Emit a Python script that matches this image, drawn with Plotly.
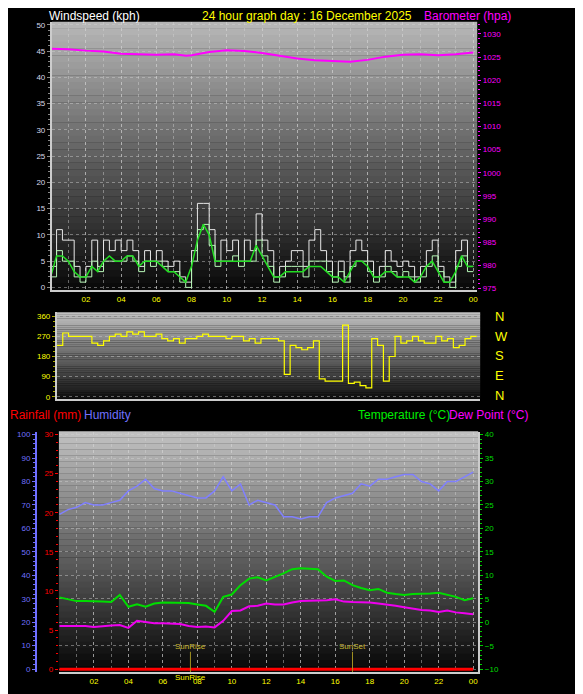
import plotly.graph_objects as go

W, H = 583, 694

# ---- data ----
hours20 = [i / 3 for i in range(73)]
gust = [4, 11, 9, 9, 4, 2, 4, 9, 4, 9, 7, 9, 7, 9, 7, 4, 7, 5, 7, 5, 4, 5, 2, 1,
        7, 16, 16, 11, 5, 9, 7, 9, 5, 9, 7, 14, 9, 7, 2, 4, 5, 7, 7, 4, 9, 11, 7, 5,
        2, 5, 2, 7, 9, 7, 5, 2, 4, 7, 5, 4, 5, 4, 2, 4, 7, 9, 4, 2, 1, 7, 9, 4, 4]
speed = [2, 7, 5, 5, 2, 1, 2, 5, 3, 5, 5, 5, 5, 6, 5, 3, 5, 4, 5, 4, 3, 3, 1, 0,
         5, 11, 12, 8, 4, 5, 5, 6, 4, 5, 5, 9, 6, 4, 1, 2, 4, 4, 4, 2, 5, 5, 5, 3,
         1, 3, 1, 4, 5, 5, 3, 1, 2, 4, 3, 2, 3, 2, 1, 2, 4, 6, 3, 1, 0, 4, 6, 3, 3]
avg = [2, 6, 6, 5, 3, 2, 2, 4, 3, 5, 6, 5, 5, 6, 6, 4, 5, 5, 5, 4, 3, 3, 2, 1,
       4, 9, 12, 10, 5, 5, 5, 5, 5, 5, 5, 8, 6, 4, 2, 2, 3, 3, 3, 3, 4, 4, 4, 3,
       2, 2, 1, 3, 5, 5, 4, 2, 2, 3, 3, 2, 2, 2, 1, 2, 4, 5, 3, 1, 1, 3, 6, 4, 4]
direction = [230, 285, 270, 270, 270, 270, 240, 230, 250, 270, 280, 270,
             290, 280, 290, 270, 270, 280, 260, 250, 260, 240, 260, 260,
             270, 280, 270, 270, 270, 260, 270, 270, 250, 260, 240, 260,
             260, 260, 250, 100, 230, 220, 210, 220, 250, 80, 70, 70,
             70, 320, 60, 65, 50, 40, 260, 230, 70, 180, 270, 240,
             250, 270, 250, 240, 240, 270, 250, 260, 220, 230, 260, 270, 270]

baro_hours = [0, 1, 2, 3, 4, 5, 6, 7, 7.7, 8, 9, 10, 11, 12, 13, 14, 15, 16, 17, 18,
              19, 20, 21, 22, 23, 24]
baro = [1026.8, 1026.7, 1026.4, 1026.2, 1025.7, 1025.6, 1025.5, 1025.6, 1025.3,
        1025.4, 1026.1, 1026.5, 1026.3, 1025.9, 1025.3, 1024.7, 1024.3, 1024.2,
        1024.0, 1024.4, 1025.1, 1025.5, 1025.6, 1025.4, 1025.6, 1026.0]

hours30 = [i / 2 for i in range(49)]
humidity = [66, 68, 69, 71, 70, 70, 71, 72, 76, 78, 81, 77, 76, 76, 75, 74, 73, 73,
            76, 82, 76, 79, 70, 72, 71, 70, 65, 65, 64, 65, 65, 71, 73, 74, 75, 79,
            78, 81, 81, 82, 83, 83, 80, 79, 76, 80, 80, 82, 84]
temperature = [5.3, 4.9, 4.5, 4.5, 4.5, 4.4, 4.3, 5.8, 3.3, 3.8, 3.3, 4.0, 4.2, 4.2,
               4.1, 4.1, 3.8, 3.5, 2.2, 5.4, 5.9, 7.9, 9.3, 9.6, 8.9, 9.6, 10.4,
               11.3, 11.5, 11.4, 11.3, 9.7, 8.8, 8.9, 7.9, 7.3, 6.8, 7.1, 6.3, 6.0,
               5.8, 6.0, 6.0, 6.1, 6.3, 5.8, 5.4, 4.7, 5.1]
dewpoint = [-0.8, -0.8, -0.7, -0.8, -1.0, -0.8, -0.7, -0.6, -1.2, 0.3, 0.0, -0.2,
            -0.2, -0.3, -0.4, -0.8, -1.0, -0.9, -1.1, 0.3, 2.4, 2.5, 3.4, 3.5, 4.0,
            3.8, 3.8, 4.2, 4.5, 4.6, 4.6, 4.7, 4.9, 4.4, 4.3, 4.3, 4.2, 4.0, 3.8,
            3.5, 3.2, 2.9, 2.6, 2.5, 2.2, 2.5, 2.1, 1.9, 1.7]
rainfall = [0] * 49

sunrise, sunset = 7.6, 17.0
tick_hours = list(range(2, 25, 2))
tick_text = ["%02d" % (h % 24) for h in tick_hours]


def py(px):
    return 1 - px / H


FONT = "Liberation Sans"
fig = go.Figure()

# top panel
fig.add_trace(go.Scatter(x=hours20, y=gust, line=dict(color="#e8e8e8", width=1, shape="hv"),
                         xaxis="x", yaxis="y"))
fig.add_trace(go.Scatter(x=hours20, y=speed, line=dict(color="#b8f8b8", width=1, shape="hv"),
                         xaxis="x", yaxis="y"))
fig.add_trace(go.Scatter(x=hours20, y=avg, line=dict(color="#22dd22", width=1.5),
                         xaxis="x", yaxis="y"))
fig.add_trace(go.Scatter(x=baro_hours, y=baro, line=dict(color="#ff00ff", width=2),
                         xaxis="x", yaxis="y2"))
# direction
fig.add_trace(go.Scatter(x=hours20, y=direction, line=dict(color="#ffff00", width=1.2, shape="hv"),
                         xaxis="x2", yaxis="y3"))
# bottom panel
fig.add_trace(go.Scatter(x=hours30, y=humidity, line=dict(color="#8080ff", width=1.5),
                         xaxis="x3", yaxis="y6"))
fig.add_trace(go.Scatter(x=hours30, y=temperature, line=dict(color="#00dd00", width=2),
                         xaxis="x3", yaxis="y5"))
fig.add_trace(go.Scatter(x=hours30, y=dewpoint, line=dict(color="#ee00ee", width=2),
                         xaxis="x3", yaxis="y5"))
fig.add_trace(go.Scatter(x=hours30, y=rainfall, line=dict(color="#ff0000", width=3),
                         xaxis="x3", yaxis="y7"))

shapes = []
# gradient backgrounds
for xr, yr, top, bot in [("x", "y", 185, 8), ("x2", "y3", 195, 15), ("x3", "y5", 195, 5)]:
    n = 40
    for i in range(n):
        c = int(top + (bot - top) * (i + 0.5) / n)
        shapes.append(dict(type="rect", xref=xr + " domain", yref=yr + " domain",
                           x0=0, x1=1, y0=1 - (i + 1) / n, y1=1 - i / n + 0.001,
                           fillcolor="rgb(%d,%d,%d)" % (c, c, c), line_width=0, layer="below"))
for h in (sunrise, sunset):
    shapes.append(dict(type="line", xref="x3", yref="y5", x0=h, x1=h, y0=-10.6, y1=-6.3,
                       line=dict(color="#a09020", width=1)))

grid = dict(gridcolor="rgba(210,210,210,0.45)", griddash="dot", gridwidth=1)
xcommon = dict(tickvals=tick_hours, ticktext=tick_text, tickfont=dict(color="#ffff00", size=8),
               showline=True, linecolor="#cccccc", linewidth=2, ticks="", zeroline=False,
               minor=dict(dtick=1, showgrid=True, gridcolor="rgba(210,210,210,0.45)", griddash="dot"),
               **grid)

fig.update_layout(
    width=W, height=H, paper_bgcolor="black", plot_bgcolor="black",
    showlegend=False, margin=dict(l=0, r=0, t=0, b=0),
    font=dict(family=FONT, size=8),
    shapes=shapes,
    xaxis=dict(domain=[44 / W, 470 / W], anchor="y", range=[0.07, 24.22], **xcommon),
    yaxis=dict(domain=[py(283), py(13)], range=[-0.57, 50.57], dtick=5,
               tickfont=dict(color="#d8d8e8"), showline=True, linecolor="#cccccc", linewidth=2,
               ticks="outside", ticklen=3, tickcolor="#888888", zeroline=False,
               minor=dict(dtick=1, ticks="outside", ticklen=2, tickcolor="#888888"), **grid),
    yaxis2=dict(overlaying="y", side="right", anchor="x", range=[974.6, 1032.6], dtick=5,
                tickvals=list(range(975, 1031, 5)), tickfont=dict(color="#ff00ff"),
                showgrid=False, ticks="outside", ticklen=3, tickcolor="#ff00ff", zeroline=False,
                minor=dict(dtick=1, ticks="outside", ticklen=2, tickcolor="#ff00ff")),
    xaxis2=dict(domain=[49 / W, 473 / W], anchor="y3", range=[0, 24.2], showticklabels=False,
                showline=True, linecolor="#cccccc", linewidth=2, zeroline=False,
                showgrid=False),
    yaxis3=dict(domain=[py(392), py(305)], anchor="x2", range=[-8.9, 377.8],
                tickvals=[0, 90, 180, 270, 360], tickfont=dict(color="#ffff00"),
                showline=True, linecolor="#cccccc", linewidth=2, ticks="outside", ticklen=3,
                tickcolor="#aaaa00", zeroline=False,
                minor=dict(dtick=22.5, ticks="outside", ticklen=2, tickcolor="#aaaa00"), **grid),
    xaxis3=dict(domain=[51 / W, 471 / W], anchor="y5", range=[-0.03, 24.29], **xcommon),
    yaxis5=dict(domain=[py(667), py(425)], anchor="x3", side="right", range=[-10.64, 40.64],
                dtick=5, tickfont=dict(color="#00dd00"), showline=True, linecolor="#cccccc",
                linewidth=2, ticks="outside", ticklen=3, tickcolor="#00cc00", zeroline=False,
                minor=dict(dtick=1, ticks="outside", ticklen=2, tickcolor="#00cc00"), **grid),
    yaxis6=dict(overlaying="y5", side="left", anchor="free", position=28 / W,
                range=[-1.3, 101.3], dtick=10, tickfont=dict(color="#7070ff"), showgrid=False,
                showline=True, linecolor="#7070ff", linewidth=2, ticks="outside", ticklen=3,
                tickcolor="#7070ff", zeroline=False,
                minor=dict(dtick=2, ticks="outside", ticklen=2, tickcolor="#7070ff")),
    yaxis7=dict(overlaying="y5", side="left", anchor="x3", range=[-0.38, 30.38], dtick=5,
                tickfont=dict(color="#ff0000"), showgrid=False, ticks="outside", ticklen=3,
                tickcolor="#ff0000", zeroline=False,
                minor=dict(dtick=1, ticks="outside", ticklen=2, tickcolor="#ff0000")),
)

ann = []


def label(text, x, y, color, size=12):
    ann.append(dict(text=text, x=x / W, y=py(y), xref="paper", yref="paper", showarrow=False,
                    xanchor="left", yanchor="middle", font=dict(color=color, size=size)))


label("Windspeed (kph)", 39, 7, "white")
label("24 hour graph day : 16 December 2025", 192, 7, "#ffff00")
label("Barometer (hpa)", 415, 7, "#ff00ff")
for txt, pxy in zip(["N", "W", "S", "E", "N"], [309, 329, 349, 369, 389]):
    label(txt, 486, pxy, "#ffff00", size=13)
label("Rainfall (mm)", 0, 408, "#ff0000")
label("Humidity", 74, 408, "#7070ff")
label("Temperature (°C)", 349, 408, "#00ee00")
label("Dew Point (°C)", 440, 408, "#ff00ff")
for h, txt in [(sunrise, "SunRise"), (sunset, "SunSet")]:
    ann.append(dict(text=txt, x=h, y=-5.2, xref="x3", yref="y5", showarrow=False,
                    font=dict(color="#c8b830", size=8)))
ann.append(dict(text="SunRise", x=sunrise, y=py(679), xref="x3", yref="paper", showarrow=False,
                font=dict(color="#ffff00", size=8)))
fig.update_layout(annotations=ann)

fig.write_html("out.html")
